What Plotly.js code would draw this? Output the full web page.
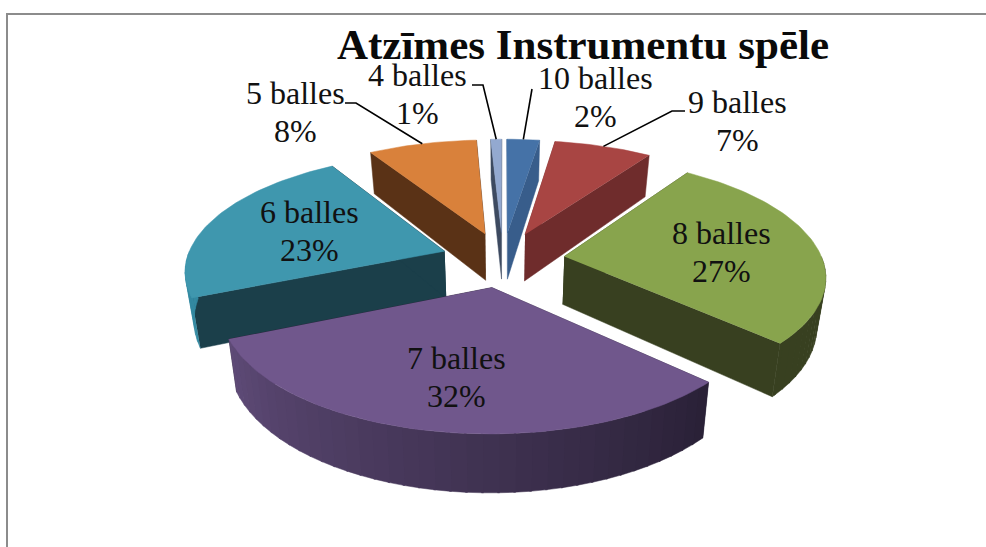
<!DOCTYPE html>
<html>
<head>
<meta charset="utf-8">
<script src="https://cdn.plot.ly/plotly-3.0.1.min.js"></script>
<style>html,body{margin:0;padding:0;background:#fff}#chart{width:986px;height:547px}</style>
</head>
<body>
<div id="chart"></div>
<script>
// Data (clockwise from 12 o'clock)
const categories = ["10 balles","9 balles","8 balles","7 balles","6 balles","5 balles","4 balles"];
const shares = [2.4,7.2,27.4,31.6,22.6,8.0,0.8];
const chartTitle = "Atzīmes Instrumentu spēle";

// Styles
const topColors  = ["#4572a7","#a84543","#88a44d","#70578c","#3f97ae","#d9813b","#93a9d0"];
const wallColors = ["#385d8b","#6f2c2c","#384020","#2b2238","#1b3f4a","#5a3216","#3d4a60"];
const rimColors  = [null,null,"#384020",null,"#3389a1",null,null];
const rimFrom = [0x5f,0x4b,0x78], rimTo = [0x2a,0x21,0x37];

// Projection of the tilted pie onto the axes
const P = {x0:503, y0:259.4, a:258, b:115, k:0.15, depth:48, shrink:0.972, explode:0.24};
const rad = d => d*Math.PI/180;
function proj(u,v,low){
  const d = 1-P.k*v;
  return [P.x0 + P.a*u/d*(low?P.shrink:1), P.y0 + P.b*v/d + (low?P.depth/d:0)];
}
function pt(theta,r,mid,low){
  const u = r*Math.sin(rad(theta)) + P.explode*Math.sin(rad(mid));
  const v = -r*Math.cos(rad(theta)) - P.explode*Math.cos(rad(mid));
  return proj(u,v,low);
}
function poly(points,color){
  return {type:"scatter",mode:"lines",x:points.map(p=>p[0]),y:points.map(p=>p[1]),
    fill:"toself",fillcolor:color,line:{color:color,width:0.5},hoverinfo:"skip",showlegend:false};
}
function arc(t1,t2,mid,low){
  const out=[]; const n=Math.max(2,Math.ceil(Math.abs(t2-t1)/1.5));
  for(let i=0;i<=n;i++) out.push(pt(t1+(t2-t1)*i/n,1,mid,low));
  return out;
}
const total = shares.reduce((a,b)=>a+b,0);
let acc=0;
const slices = shares.map((s,i)=>{const t1=acc/total*360; acc+=s; const t2=acc/total*360; return {i,t1,t2,mid:(t1+t2)/2};});

const traces=[];
function addSlice(sl){
  const {i,t1,t2,mid}=sl;
  [t1,t2].forEach(t=>{
    traces.push(poly([pt(t,0,mid,false),pt(t,1,mid,false),pt(t,1,mid,true),pt(t,0,mid,true)],wallColors[i]));
  });
  const a=Math.max(t1,90), b=Math.min(t2,270);
  if(b>a){
    const step=3;
    for(let t=a;t<b;t+=step){
      const e=Math.min(t+step+0.4,b);
      const f=(t-133)/(247-133);
      const col = rimColors[i] || "rgb("+rimFrom.map((c,k)=>Math.round(rimTo[k]+(c-rimTo[k])*f)).join(",")+")";
      traces.push(poly(arc(t,e,mid,false).concat(arc(e,t,mid,true)),col));
    }
  }
  traces.push(poly([pt(t1,0,mid,false)].concat(arc(t1,t2,mid,false)),topColors[i]));
}
// back to front
[6,0,1,5,4,2,3].forEach(i=>addSlice(slices[i]));

// Leader lines: elbow near the label, end on the slice's outer edge
const leaderElbows = {0:[[532,89]],1:[[685,111],[672,111]],5:[[345,103],[356,103]],6:[[472,85],[483,85]]};
Object.keys(leaderElbows).forEach(k=>{
  const sl=slices[k]; const end=pt(sl.mid,1,sl.mid,false);
  const pts=leaderElbows[k].concat([end]);
  traces.push({type:"scatter",mode:"lines",x:pts.map(p=>p[0]),y:pts.map(p=>p[1]),
    line:{color:"#000",width:1.6},hoverinfo:"skip",showlegend:false});
});

// Label centres on the page; each label has two text lines 38px apart
const labelCentres = [[595,97],[737,121],[721,252],[456,377],[309,231],[295,112],[417,94]];
const labelFont = {family:"Liberation Serif, serif",size:32,color:"#111"};
const annotations = [];
categories.forEach((c,i)=>{
  [c, Math.round(shares[i]/total*100)+"%"].forEach((txt,j)=>{
    annotations.push({xref:"x",yref:"y",x:labelCentres[i][0],y:labelCentres[i][1]+(j?19:-19),
      showarrow:false,xanchor:"center",yanchor:"middle",align:"center",text:txt,font:labelFont});
  });
});

const layout={
  width:986,height:547,margin:{l:0,r:0,t:0,b:0},paper_bgcolor:"#fff",plot_bgcolor:"#fff",
  showlegend:false,hovermode:false,
  title:{text:"<b>"+chartTitle+"</b>",x:583/986,xanchor:"center",y:1-44/547,yanchor:"middle",
    font:{family:"Liberation Serif, serif",size:43,color:"#0a0a0a"}},
  xaxis:{range:[0,986],visible:false,fixedrange:true},
  yaxis:{range:[547,0],visible:false,fixedrange:true},
  annotations,
  shapes:[
    {type:"line",xref:"paper",yref:"paper",x0:6/986,x1:1,y0:1-14/547,y1:1-14/547,line:{color:"#8c8c8c",width:2}},
    {type:"line",xref:"paper",yref:"paper",x0:7/986,x1:7/986,y0:1-13/547,y1:0,line:{color:"#8c8c8c",width:2}}
  ]
};
Plotly.newPlot("chart",traces,layout,{displayModeBar:false,staticPlot:true});
</script>
</body>
</html>
